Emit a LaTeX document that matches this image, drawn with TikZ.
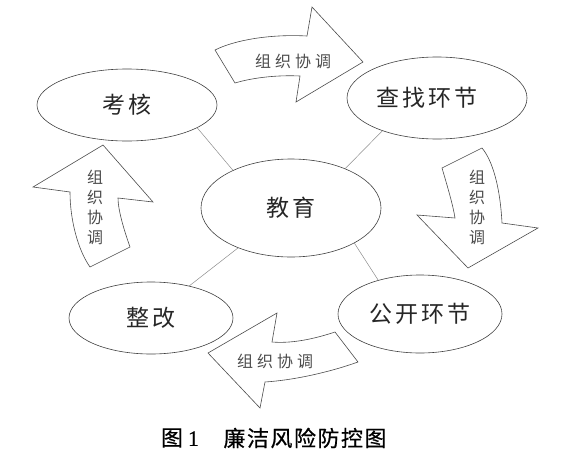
\documentclass[tikz,border=0pt]{standalone}
\usepackage{fontspec}
\usetikzlibrary{shapes.geometric}
\newfontfamily\cjk{Noto Sans CJK SC}
\newfontfamily\cjkcap[FakeBold=0.6]{Noto Sans CJK SC}
\newfontfamily\numfont[FakeBold=0.6]{Liberation Serif}
\begin{document}
\begin{tikzpicture}[x=1pt,y=-1pt,
  ell/.style={draw=black!75, line width=0.6pt, ellipse, inner sep=0pt,
    font=\cjk\fontsize{23}{23}\selectfont, text=black!85},
  link/.style={draw=black!45, line width=0.5pt},
  blk/.style={draw=black!70, line width=0.6pt, fill=white, line join=miter},
  lbl/.style={font=\cjk\fontsize{16}{20}\selectfont, text=black!70, inner sep=0pt, align=center},
  captxt/.style={font=\cjkcap\fontsize{22}{22}\selectfont, text=black, inner sep=0pt}]
\useasboundingbox (0,0) rectangle (569,460);

% ellipses
\node[ell, minimum width=180pt, minimum height=72pt] (kh) at (127,105) {考\hspace{3pt}核};
\node[ell, minimum width=180pt, minimum height=82pt] (cz) at (437,98) {查\hspace{3pt}找\hspace{3pt}环\hspace{3pt}节\hspace*{20pt}};
\node[ell, minimum width=180pt, minimum height=98pt] (jy) at (291,208) {教\hspace{3pt}育};
\node[ell, minimum width=164pt, minimum height=72pt] (zg) at (151,318) {整\hspace{3pt}改};
\node[ell, minimum width=164pt, minimum height=78pt] (gk) at (420,314) {公\hspace{3pt}开\hspace{3pt}环\hspace{3pt}节};

% links
\draw[link] (kh.-18) -- (jy.147);
\draw[link] (cz.211) -- (jy.36);
\draw[link] (jy.217) -- (zg.40);
\draw[link] (jy.-29) -- (gk.141);

% top arrow (right)
\draw[blk] (215,50) .. controls (235,40) and (270,34) .. (307,36) -- (312,7) -- (363,62)
  -- (296,102) -- (300,76) .. controls (280,75) and (255,77) .. (235,83) -- cycle;
\node[lbl] (t1) at (293,61) {组\hspace{4pt}织\hspace{4pt}协\hspace{4pt}调};

% right arrow (down)
\draw[blk] (482,148) -- (442,168) .. controls (447,185) and (453,205) .. (455,218) -- (417,215)
  -- (468,268) -- (538,228) -- (502,223) .. controls (500,185) and (492,160) .. cycle;
\node[lbl] (t2) at (477,207) {组\\织\\协\\调};

% bottom arrow (left)
\draw[blk] (208,353) -- (277,313) -- (272,342) .. controls (295,344) and (320,337) .. (335,332)
  -- (358,362) .. controls (330,372) and (295,380) .. (265,382) -- (260,408) -- cycle;
\node[lbl] (t3) at (275,361) {组\hspace{4pt}织\hspace{4pt}协\hspace{4pt}调};

% left arrow (up)
\draw[blk] (103,145) -- (33,187) -- (70,192) .. controls (70,220) and (78,250) .. (90,267)
  -- (130,247) .. controls (124,230) and (118,210) .. (118,198) -- (153,202) -- cycle;
\node[lbl] (t4) at (95,207) {组\\织\\协\\调};

% caption
\node[captxt] (c1) at (180,438) {图\hspace{5pt}{\numfont 1}};
\node[captxt] (c2) at (305,438) {廉\hspace{1.5pt}洁\hspace{1.5pt}风\hspace{1.5pt}险\hspace{1.5pt}防\hspace{1.5pt}控\hspace{1.5pt}图};
\end{tikzpicture}
\end{document}
